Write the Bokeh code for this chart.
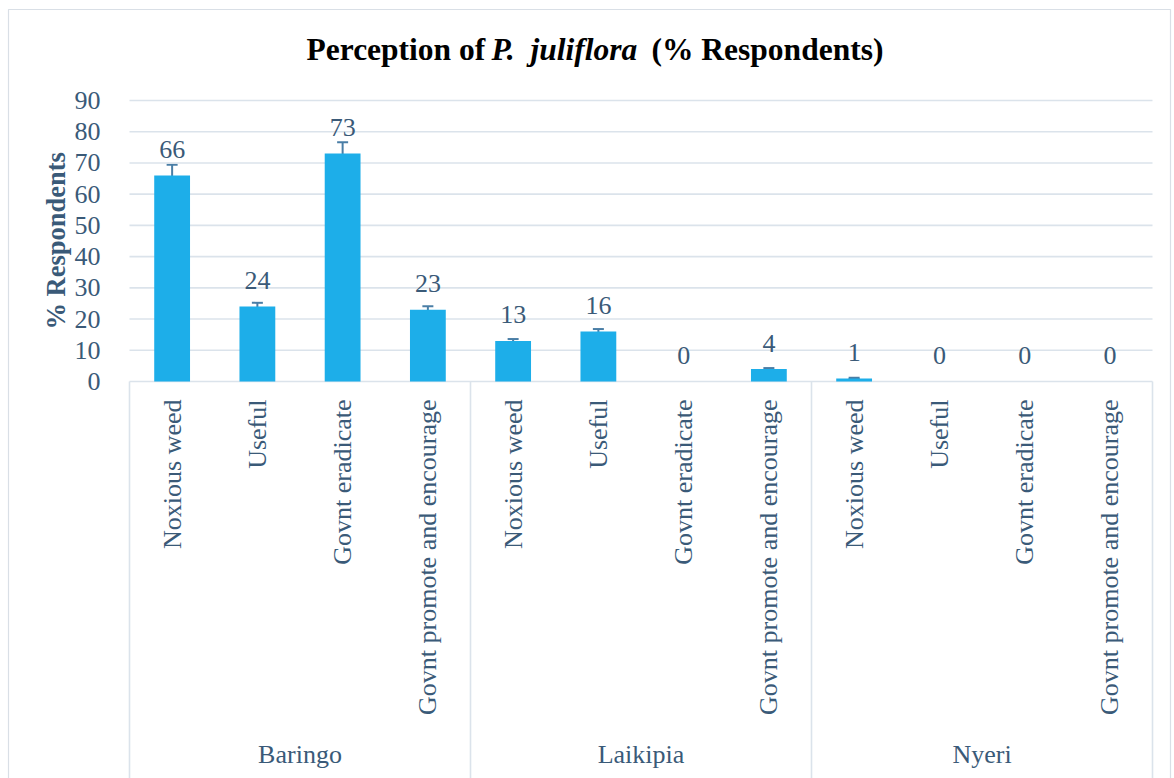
import math
from bokeh.plotting import figure
from bokeh.models import ColumnDataSource, Range1d, FixedTicker, Whisker, TeeHead
from bokeh.core.properties import value
from bokeh.embed import file_html
from bokeh.resources import INLINE

# ---------------- data ----------------
regions = ["Baringo", "Laikipia", "Nyeri"]
perceptions = ["Noxious weed", "Useful", "Govnt eradicate", "Govnt promote and encourage"]
baringo = [66, 24, 73, 23]
laikipia = [13, 16, 0, 4]
nyeri = [1, 0, 0, 0]
err_baringo = [3.4, 1.2, 3.6, 1.1]
err_laikipia = [0.6, 0.8, 0.0, 0.3]
err_nyeri = [0.2, 0.0, 0.0, 0.0]
y_ticks = [0, 10, 20, 30, 40, 50, 60, 70, 80, 90]
title_parts = ["Perception of", "P.", "juliflora", "(% Respondents)"]
title_styles = ["bold", "bold italic", "bold italic", "bold"]
y_title = "% Respondents"

# ---------------- layout / styling ----------------
W, H = 1174, 778
FONT = "Liberation Serif"
TEXT = "#3a5a78"
GRID = "#dbe3eb"
BAR = "#1daee9"
ERR = "#4a7ea6"
N = len(perceptions)
NG = len(regions)
X0_PX, X1_PX = 129, 1152          # plot band left / right (px)
Y0_PX, Y90_PX = 381, 100          # value 0 and value 90 (px)
PXX = (X1_PX - X0_PX) / (N * NG)  # px per category slot
PXY = (Y0_PX - Y90_PX) / 90.0     # px per unit


def dx(px):
    return (px - X0_PX) / PXX


def dy(px):
    return (Y0_PX - px) / PXY


values = baringo + laikipia + nyeri
errors = err_baringo + err_laikipia + err_nyeri
cats = perceptions * NG
xs = [g * N + j + 0.5 for g in range(NG) for j in range(N)]

src = ColumnDataSource(dict(
    x=xs, value=values, cat=cats,
    label=[str(v) for v in values],
    label_y=[v + 26 / PXY for v in values],
))
keep = [i for i, e in enumerate(errors) if e > 0]
err_src = ColumnDataSource(dict(
    x=[xs[i] for i in keep],
    upper=[values[i] + errors[i] for i in keep],
    lower=[values[i] - errors[i] for i in keep],
))

p = figure(width=W, height=H, title=None,
           x_range=Range1d(dx(0), dx(W)), y_range=Range1d(dy(H), dy(0)),
           x_axis_type=None, output_backend="svg", toolbar_location=None,
           min_border_left=0, min_border_right=0, min_border_top=0, min_border_bottom=0)
p.outline_line_color = None
p.background_fill_color = "white"
p.border_fill_color = "white"
p.ygrid.grid_line_color = None

# chart border
p.quad(left=dx(8), right=dx(1170), bottom=dy(790), top=dy(9),
       fill_color=None, line_color="#d9dfe6", line_width=1.2)

# y axis (tick labels only) fixed at x = 0
yax = p.yaxis[0]
yax.fixed_location = 0
yax.ticker = FixedTicker(ticks=y_ticks)
yax.axis_line_color = None
yax.major_tick_line_color = None
yax.minor_tick_line_color = None
yax.major_label_text_font = FONT
yax.major_label_text_font_size = "26px"
yax.major_label_text_color = TEXT
yax.major_label_standoff = 23

# horizontal gridlines over the plot band
p.segment(x0=[0] * len(y_ticks), x1=[N * NG] * len(y_ticks), y0=y_ticks, y1=y_ticks,
          line_color=GRID, line_width=1.6)

# group separators below the axis
bounds = [g * N for g in range(NG + 1)]
p.segment(x0=bounds, y0=[0] * len(bounds), x1=bounds, y1=[dy(H)] * len(bounds),
          line_color=GRID, line_width=1.6)

# bars
p.vbar(x="x", top="value", bottom=0, width=0.42, source=src, fill_color=BAR, line_color=None)

# error bars
p.add_layout(Whisker(source=err_src, base="x", upper="upper", lower="lower",
                     line_color=ERR, line_width=2,
                     upper_head=TeeHead(size=11, line_color=ERR, line_width=2),
                     lower_head=TeeHead(size=11, line_color=ERR, line_width=2)))

# value labels
p.text(x="x", y="label_y", text="label", source=src, text_align="center",
       text_baseline="middle", text_font=value(FONT), text_font_size="26px",
       text_color=TEXT)

# category labels (rotated)
p.text(x="x", y=-18 / PXY, text="cat", source=src, angle=math.pi / 2,
       text_align="right", text_baseline="middle", text_font=value(FONT),
       text_font_size="26px", text_color=TEXT)

# group labels
p.text(x=[g * N + N / 2 for g in range(NG)], y=[dy(754)] * NG, text=regions,
       text_align="center", text_baseline="middle", text_font=value(FONT),
       text_font_size="26px", text_color=TEXT)

# y axis title
p.text(x=[dx(55)], y=[dy(240.4)], text=[y_title], angle=math.pi / 2,
       text_align="center", text_baseline="middle", text_font=value(FONT),
       text_font_style="bold", text_font_size="26.5px", text_color=TEXT)

# chart title (mixed styles)
p.text(x=[dx(306), dx(491), dx(530), dx(651)], y=[dy(48.5)] * 4, text=title_parts,
       text_font_style=title_styles,
       text_align="left", text_baseline="middle", text_font=value(FONT),
       text_font_size="31.5px", text_color="black")

open("out.html", "w").write(file_html(p, INLINE))
